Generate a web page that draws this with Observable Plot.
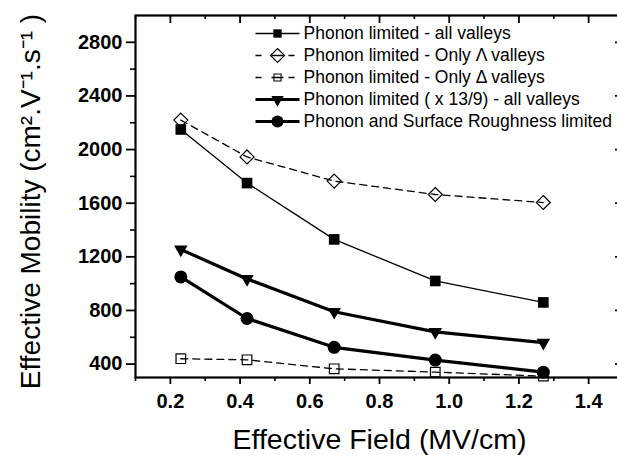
<!DOCTYPE html>
<html><head><meta charset="utf-8">
<script src="https://cdn.jsdelivr.net/npm/d3@7"></script>
<script src="https://cdn.jsdelivr.net/npm/@observablehq/plot@0.6"></script>
<style>
html,body{margin:0;padding:0;background:#fff;overflow:hidden;width:617px;height:455px;}
#chart svg{display:block;max-width:none !important;}
</style></head><body><div id="chart"></div>
<script>
// ---- data ----
const fieldMVcm = [0.23, 0.42, 0.67, 0.96, 1.27];
const phononAll = [2150, 1750, 1330, 1020, 860];
const phononLambda = [2220, 1945, 1765, 1665, 1605];
const phononDelta = [440, 432, 365, 340, 310];
const phononScaled = [1255, 1035, 790, 640, 560];
const phononSR = [1050, 740, 525, 430, 340];
const seriesNames = [
  "Phonon limited - all valleys",
  "Phonon limited - Only \u039B valleys",
  "Phonon limited - Only \u0394 valleys",
  "Phonon limited ( x 13/9) - all valleys",
  "Phonon and Surface Roughness limited"
];
const xMajorTicks = [0.2, 0.4, 0.6, 0.8, 1.0, 1.2, 1.4];
const xMinorTicks = [0.1, 0.3, 0.5, 0.7, 0.9, 1.1, 1.3, 1.5];
const yMajorTicks = [400, 800, 1200, 1600, 2000, 2400, 2800];
const yMinorTicks = [600, 1000, 1400, 1800, 2200, 2600];
const xTitle = "Effective Field (MV/cm)";
const yTitle = "Effective Mobility (cm\u00B2.V\u207B\u00B9.s\u207B\u00B9 )";

const seriesValues = [phononAll, phononLambda, phononDelta, phononScaled, phononSR];
const rows = seriesValues.flatMap((vals, s) => vals.map((v, i) => ({field: fieldMVcm[i], mobility: v, series: s})));
const bySeries = s => rows.filter(d => d.series === s);

// ---- layout & styles ----
const FONT = "Liberation Sans, Arial, Helvetica, sans-serif";
const W = 630, H = 455, MT = 15, ML = 135, MR = 7, MB = 78;
const FW = W - ML - MR, FH = H - MT - MB;
const styles = [
  {line: {strokeWidth: 1.3}, dot: {symbol: "square", r: 6, fill: "black", stroke: "none"},
   leg: {symbol: "square", r: 4.7, fill: "black", stroke: "none"}, legLine: "solid", legW: 1.3},
  {line: {strokeWidth: 1.3, strokeDasharray: "7,5"}, dot: {symbol: "diamond2", r: 6.3, fill: "none", stroke: "black", strokeWidth: 1.2},
   leg: {symbol: "diamond2", r: 6.3, fill: "none", stroke: "black", strokeWidth: 1.2}, legLine: "dash", legW: 1.3},
  {line: {strokeWidth: 1.3, strokeDasharray: "7,5"}, dot: {symbol: "square", r: 5.4, fill: "none", stroke: "black", strokeWidth: 1.2},
   leg: {symbol: "square", r: 4, fill: "none", stroke: "black", strokeWidth: 1.1}, legLine: "dash", legW: 1.3},
  {line: {strokeWidth: 3.2}, dot: {symbol: "triangle", r: 5, rotate: 180, fill: "black", stroke: "none"},
   leg: {symbol: "triangle", r: 4.6, rotate: 180, fill: "black", stroke: "none"}, legLine: "solid", legW: 3.2},
  {line: {strokeWidth: 3.2}, dot: {symbol: "circle", r: 6.5, fill: "black", stroke: "none"},
   leg: {symbol: "circle", r: 6, fill: "black", stroke: "none"}, legLine: "solid", legW: 3.2}
];
const legendRowY = [33, 55, 77, 99, 121];
const legMarkerX = 277, legTextX = 303;

const solidSym = {draw(ctx) { ctx.moveTo(-22, 0); ctx.lineTo(22, 0); }};
const dashSym = {draw(ctx) {
  ctx.moveTo(-22, 0); ctx.lineTo(-16, 0);
  ctx.moveTo(-6, 0); ctx.lineTo(6, 0);
  ctx.moveTo(11, 0); ctx.lineTo(17, 0);
}};

const dataMarks = seriesNames.flatMap((name, s) => [
  Plot.line(bySeries(s), {x: "field", y: "mobility", stroke: "black", strokeLinejoin: "round", ...styles[s].line}),
  Plot.dot(bySeries(s), {x: "field", y: "mobility", ...styles[s].dot})
]);

const legendMarks = seriesNames.flatMap((name, s) => {
  const dy = legendRowY[s] - MT;
  return [
    Plot.dot([name], {frameAnchor: "top-left", dx: legMarkerX - ML, dy,
      symbol: styles[s].legLine === "solid" ? solidSym : dashSym,
      r: 10, fill: "none", stroke: "black", strokeWidth: styles[s].legW}),
    Plot.dot([name], {frameAnchor: "top-left", dx: legMarkerX - ML, dy, ...styles[s].leg}),
    Plot.text([name], {frameAnchor: "top-left", dx: legTextX - ML, dy, text: d => d,
      textAnchor: "start", lineAnchor: "middle", fontSize: 17.5, fontFamily: FONT, fill: "black"})
  ];
});

const chart = Plot.plot({
  width: W, height: H,
  marginLeft: ML, marginRight: MR, marginTop: MT, marginBottom: MB,
  style: {fontFamily: FONT, color: "black", background: "white", maxWidth: "none"},
  x: {domain: [0.1, 1.5], label: null},
  y: {domain: [300, 3000], label: null},
  marks: [
    // minor ticks (outward on bottom/left, inward on top/right)
    Plot.axisX({anchor: "bottom", ticks: xMinorTicks, tickSize: 4, fill: "none", strokeWidth: 1.6}),
    Plot.axisY({anchor: "left", ticks: yMinorTicks, tickSize: 5, fill: "none", strokeWidth: 1.6}),
    Plot.ruleX(xMinorTicks, {x: d => d, insetBottom: FH - 4, stroke: "black", strokeWidth: 1.6}),
    Plot.ruleY(yMinorTicks, {y: d => d, insetLeft: FW - 4, stroke: "black", strokeWidth: 1.6}),
    // major ticks
    Plot.axisX({anchor: "bottom", ticks: xMajorTicks, tickSize: 7, tickPadding: 9, tickFormat: d3.format(".1f"),
      fontSize: 20, fontWeight: "bold", label: null, strokeWidth: 1.8}),
    Plot.axisY({anchor: "left", ticks: yMajorTicks, tickSize: 9, tickPadding: 4, tickFormat: d3.format("d"),
      fontSize: 20, fontWeight: "bold", label: null, strokeWidth: 1.8}),
    Plot.ruleX(xMajorTicks, {x: d => d, insetBottom: FH - 8, stroke: "black", strokeWidth: 1.8}),
    Plot.ruleY(yMajorTicks, {y: d => d, insetLeft: FW - 8, stroke: "black", strokeWidth: 1.8}),
    Plot.frame({stroke: "black", strokeWidth: 2.2}),
    ...dataMarks,
    ...legendMarks,
    Plot.text([xTitle], {frameAnchor: "bottom", dy: 62, text: d => d, textAnchor: "middle", lineAnchor: "middle",
      fontSize: 28.5, fontFamily: FONT, fill: "black"}),
    Plot.text([yTitle], {frameAnchor: "left", rotate: -90, dx: -104, dy: 5, text: d => d, textAnchor: "middle", lineAnchor: "middle",
      fontSize: 28, fontFamily: FONT, fill: "black"})
  ]
});
document.getElementById("chart").appendChild(chart);
</script>
</body></html>
